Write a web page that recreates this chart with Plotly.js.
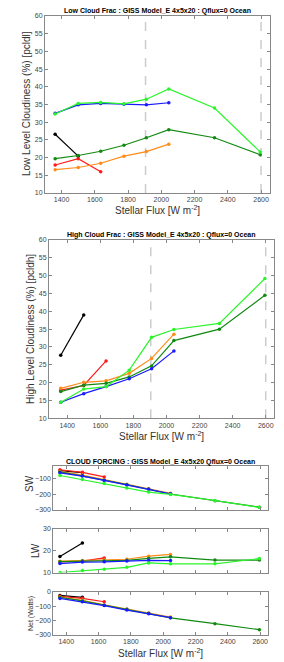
<!DOCTYPE html>
<html><head><meta charset="utf-8">
<script src="https://cdn.plot.ly/plotly-3.0.1.min.js"></script>
<style>html,body{margin:0;padding:0;background:#fff}#c{width:284px;height:662px}</style>
</head><body><div id="c"></div>
<script>
const flux = [1361, 1500, 1635, 1775, 1910, 2045, 2320, 2595];
const seriesNames = ["black", "red", "orange", "darkgreen", "blue", "lime"];
const seriesColors = ["#000000", "#ff1a1a", "#ff8c1a", "#128a12", "#1a1aff", "#2af52a"];

const lowBlack = [26.6, 20.4];
const lowRed = [17.9, 19.7, 16.0];
const lowOrange = [16.6, 17.2, 18.4, 20.4, 21.7, 23.8];
const lowDarkGreen = [19.7, 20.6, 21.8, 23.5, 25.6, 27.9, 25.6, 20.8];
const lowBlue = [32.5, 34.9, 35.3, 35.1, 34.9, 35.5];
const lowLime = [32.3, 35.3, 35.6, 35.2, 36.5, 39.4, 34.0, 21.6];

const highBlack = [27.7, 39.0];
const highRed = [17.9, 19.2, 26.1];
const highOrange = [18.4, 20.1, 20.5, 22.6, 26.8, 33.6];
const highDarkGreen = [17.5, 19.3, 19.8, 21.6, 24.7, 31.8, 35.0, 44.5];
const highBlue = [14.5, 16.9, 18.9, 21.1, 23.9, 28.9];
const highLime = [14.5, 18.2, 18.9, 23.5, 32.7, 34.9, 36.6, 49.2];

const swBlack = [-47, -60];
const swRed = [-41, -58, -87];
const swOrange = [-52, -75, -105, -135, -163, -193];
const swDarkGreen = [-55, -80, -108, -137, -165, -197, -240, -282];
const swBlue = [-61, -82, -110, -139, -167, -196];
const swLime = [-78, -104, -130, -159, -185, -200, -239, -283];

const lwBlack = [17.4, 23.6];
const lwRed = [14.9, 15.2, 16.7];
const lwOrange = [15.2, 15.5, 15.7, 16.1, 17.5, 18.3];
const lwDarkGreen = [15.0, 15.3, 15.3, 15.6, 16.5, 17.2, 15.7, 15.7];
const lwBlue = [14.1, 14.8, 14.9, 15.3, 15.6, 15.5];
const lwLime = [10.0, 10.9, 11.5, 12.4, 14.4, 14.0, 14.0, 16.4];

const netBlack = [-24, -37];
const netRed = [-30, -44, -68];
const netOrange = [-35, -58, -90, -119, -146, -175];
const netDarkGreen = [-37, -62, -92, -121, -148, -180, -221, -263];
const netBlue = [-45, -68, -95, -126, -151, -179];

const dashedFlux = [1905, 2600];
const fluxTicks = [1400, 1600, 1800, 2000, 2200, 2400, 2600];
const cloudTicks = [10, 15, 20, 25, 30, 35, 40, 45, 50, 55, 60];
const swTicks = [-100, -200, -300];
const lwTicks = [10, 20, 30];
const netTicks = [0, -100, -200, -300];

const panels = [
  {xa: "x", ya: "y", data: [lowBlack, lowRed, lowOrange, lowDarkGreen, lowBlue, lowLime]},
  {xa: "x2", ya: "y2", data: [highBlack, highRed, highOrange, highDarkGreen, highBlue, highLime]},
  {xa: "x3", ya: "y3", data: [swBlack, swRed, swOrange, swDarkGreen, swBlue, swLime]},
  {xa: "x4", ya: "y4", data: [lwBlack, lwRed, lwOrange, lwDarkGreen, lwBlue, lwLime]},
  {xa: "x5", ya: "y5", data: [netBlack, netRed, netOrange, netDarkGreen, netBlue, null]}
];

const traces = [];
panels.forEach(p => {
  p.data.forEach((vals, i) => {
    if (!vals) return;
    traces.push({
      type: "scatter", mode: "lines+markers",
      x: flux.slice(0, vals.length), y: vals,
      xaxis: p.xa, yaxis: p.ya, name: seriesNames[i],
      line: {color: seriesColors[i], width: 1.2},
      marker: {color: seriesColors[i], size: 3.5},
      showlegend: false, hoverinfo: "skip"
    });
  });
});

const W = 284, H = 662;
const fx = px => px / W;
const fy = px => 1 - px / H;
const tickFont = {family: "Liberation Sans, Arial, sans-serif", size: 7, color: "#444"};
function xax(l, r, range, anchor, showLabels) {
  return {domain: [fx(l), fx(r)], range: range, anchor: anchor, tickvals: fluxTicks,
    ticks: "inside", ticklen: 3, tickcolor: "#888", showline: true, linecolor: "#888", linewidth: 1, mirror: "ticks",
    showgrid: false, zeroline: false, tickfont: tickFont, showticklabels: showLabels};
}
function yax(t, b, range, anchor, tickvals) {
  return {domain: [fy(b), fy(t)], range: range, anchor: anchor, tickvals: tickvals,
    ticks: "inside", ticklen: 3, tickcolor: "#888", showline: true, linecolor: "#888", linewidth: 1, mirror: "ticks",
    showgrid: false, zeroline: false, tickfont: tickFont};
}

const shapes = [];
["x", "x2"].forEach((xa, k) => {
  const ya = k === 0 ? "y" : "y2";
  dashedFlux.forEach(v => shapes.push({type: "line", layer: "below", xref: xa, yref: ya + " domain", x0: v, x1: v, y0: 0, y1: 1,
    line: {color: "#cccccc", width: 1.5, dash: "dash"}}));
});

const titleFont = {family: "Liberation Sans, Arial, sans-serif", size: 7, color: "#000"};
const labFont = {family: "Liberation Sans, Arial, sans-serif", size: 10, color: "#333"};
const ann = (x, y, text, font, angle) => ({xref: "paper", yref: "paper", x: fx(x), y: fy(y), text: text,
  showarrow: false, font: font, textangle: angle || 0, xanchor: "center", yanchor: "middle"});

const annotations = [
  ann(157, 10.5, "<b>Low Cloud Frac : GISS Model_E 4x5x20 : Qflux=0 Ocean</b>", titleFont),
  ann(161, 235, "<b>High Cloud Frac : GISS Model_E 4x5x20 : Qflux=0 Ocean</b>", titleFont),
  ann(160, 461.5, "<b>CLOUD FORCING : GISS Model_E 4x5x20 Qflux=0 Ocean</b>", titleFont),
  ann(157, 210, "Stellar Flux [W m<sup>-2</sup>]", labFont),
  ann(161, 436, "Stellar Flux [W m<sup>-2</sup>]", labFont),
  ann(160, 653, "Stellar Flux [W m<sup>-2</sup>]", labFont),
  ann(26, 104, "Low Level Cloudiness (%) [pcldl]", labFont, -90),
  ann(30, 329, "High Level Cloudiness (%) [pcldh]", labFont, -90),
  ann(29, 484, "SW", labFont, -90),
  ann(35, 551, "LW", labFont, -90),
  ann(31, 613, "Net (Watts)", {family: "Liberation Sans, Arial, sans-serif", size: 7, color: "#333"}, -90)
];

const layout = {
  width: W, height: H, margin: {l: 0, r: 0, t: 0, b: 0},
  paper_bgcolor: "#fff", plot_bgcolor: "#fff", showlegend: false,
  xaxis: xax(45, 270, [1300, 2654], "y", true),
  yaxis: yax(16, 193, [10, 60], "x", cloudTicks),
  xaxis2: xax(49, 274, [1290, 2650], "y2", true),
  yaxis2: yax(240, 418.3, [10, 60], "x2", cloudTicks),
  xaxis3: xax(53.3, 268.3, [1320, 2650], "y3", false),
  yaxis3: yax(466, 510, [-300, -17], "x3", swTicks),
  xaxis4: xax(53.3, 268.3, [1320, 2650], "y4", false),
  yaxis4: yax(529, 572.5, [10, 30], "x4", lwTicks),
  xaxis5: xax(53.3, 268.3, [1320, 2650], "y5", true),
  yaxis5: yax(592, 635, [-300, 0], "x5", netTicks),
  shapes: shapes, annotations: annotations
};

Plotly.newPlot("c", traces, layout, {staticPlot: true, displayModeBar: false});
</script></body></html>
